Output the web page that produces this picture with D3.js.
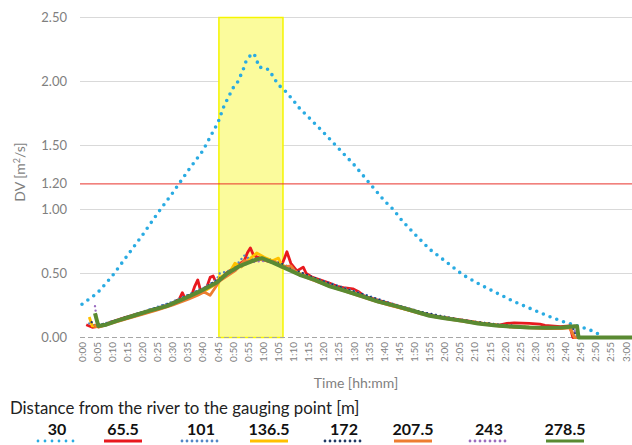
<!DOCTYPE html>
<html lang="en">
<head>
<meta charset="utf-8">
<title>DV over time</title>
<script src="https://cdnjs.cloudflare.com/ajax/libs/d3/7.8.5/d3.min.js"></script>
<style>
  body { margin: 0; background: #fff; font-family: 'Lato', 'Noto Sans', sans-serif; }
  svg { display: block; }
</style>
</head>
<body>
<div id="chart"></div>
<script>

/* Data */
/* ==== */

// y ticks (1.20 is the threshold line)
var yTicks = [0, 0.5, 1.0, 1.2, 1.5, 2.0, 2.5];
var gridValues = [0.5, 1.0, 1.5, 2.0, 2.5];
var threshold = 1.2;

// x ticks, minutes, every 5 min
var xTicks = d3.range(0, 181, 5);

// highlighted window, minutes
var bandStart = 45.3,
    bandEnd = 66.5;

// series names (distance to the gauging point, m)
var distances = ['30', '65.5', '101', '136.5', '172', '207.5', '243', '278.5'];

// [minute, DV]
var s30 = [[0,0.26],[5,0.345],[10,0.48],[15,0.64],[20,0.80],[25,0.97],[30,1.13],[35,1.30],[40,1.46],[45,1.68],
  [47,1.81],[48.5,1.88],[50,1.95],[51.6,2.00],[53.3,2.09],[54.3,2.16],[55.6,2.20],[56.9,2.22],[57.9,2.16],
  [58.6,2.11],[60.2,2.11],[61.9,2.09],[63.2,2.04],[64.5,1.99],[66,1.95],[67.5,1.92],[70,1.85],[72,1.79],[75,1.72],
  [80,1.60],[84,1.50],[90,1.35],[95,1.21],[100,1.07],[103,1.00],[106,0.91],[110,0.81],[115,0.69],[120,0.60],
  [126,0.49],[132,0.41],[137,0.35],[143,0.28],[148,0.23],[154,0.17],[159,0.125],[164,0.09],[168,0.06],[171.5,0.02]];

var s65 = [[1.4,0.10],[3.4,0.08],[6.5,0.09],[9.6,0.12],[14.7,0.16],[19.9,0.195],[25,0.23],[28,0.25],[30,0.27],
  [32.2,0.30],[33.2,0.35],[34.2,0.30],[36.3,0.33],[37.3,0.40],[38.3,0.45],[39.3,0.36],[41.4,0.40],[42.4,0.47],
  [43.4,0.48],[44.5,0.42],[47.6,0.50],[50.6,0.55],[53.7,0.60],[54.7,0.66],[55.7,0.70],[56.8,0.64],[58.8,0.62],
  [60.9,0.60],[64,0.58],[66,0.56],[67,0.62],[67.8,0.67],[69.1,0.58],[71.1,0.52],[73.2,0.55],[74.2,0.50],[76.3,0.47],
  [81.4,0.43],[84.5,0.40],[86.5,0.39],[89.6,0.38],[91.7,0.355],[93.7,0.32],[96.8,0.30],[101.9,0.265],[107,0.23],
  [112,0.195],[117,0.165],[122,0.15],[127.6,0.13],[132.7,0.11],[138,0.097],[140.6,0.11],[143,0.115],[148,0.11],
  [151.5,0.105],[153.2,0.095],[158.3,0.085],[161.4,0.09],[162.4,0],[190,0]];

var s101 = [[2.4,0.11],[4.5,0.09],[9.6,0.125],[14.7,0.16],[19.9,0.20],[25,0.24],[30.1,0.28],[35.2,0.335],[40.4,0.39],
  [44.5,0.45],[45.5,0.50],[48.6,0.52],[50.6,0.55],[53.7,0.64],[55.8,0.61],[60.9,0.62],[64,0.60],[66,0.58],[71.1,0.52],
  [76.3,0.47],[81.4,0.43],[86.5,0.39],[91.7,0.35],[96.8,0.31],[101.9,0.27],[107.1,0.235],[112.2,0.20],[117.3,0.175],
  [122.4,0.15],[127.6,0.13],[132.7,0.115],[137.8,0.10],[143,0.09],[148.1,0.08],[153.2,0.078],[158.3,0.078],
  [162.4,0.08],[163.5,0],[190,0]];

var s136 = [[2.4,0.16],[3.4,0.09],[5.5,0.085],[9.6,0.115],[14.7,0.15],[19.9,0.185],[25,0.22],[30.1,0.26],[35.2,0.31],
  [40.4,0.36],[44.5,0.42],[45.5,0.47],[48.6,0.50],[50.6,0.58],[52.7,0.55],[55.8,0.62],[57.8,0.66],[60.9,0.62],
  [63,0.60],[65,0.62],[66,0.57],[71.1,0.51],[76.3,0.46],[81.4,0.41],[86.5,0.37],[91.7,0.33],[96.8,0.29],
  [101.9,0.255],[107.1,0.22],[112.2,0.19],[117.3,0.165],[122.4,0.145],[127.6,0.125],[132.7,0.11],[137.8,0.095],
  [143,0.085],[148.1,0.08],[153.2,0.075],[158.3,0.075],[161.4,0.08],[163,0],[190,0]];

var s172 = [[3.2,0.12],[4.5,0.09],[9.6,0.12],[14.7,0.16],[19.9,0.195],[25,0.235],[30.1,0.275],[35.2,0.33],
  [40.4,0.385],[45.5,0.46],[50.6,0.54],[55.8,0.60],[60.9,0.61],[66,0.575],[71.1,0.52],[76.3,0.47],[81.4,0.425],
  [86.5,0.385],[91.7,0.345],[96.8,0.305],[101.9,0.265],[107.1,0.23],[112.2,0.20],[117.3,0.175],[122.4,0.15],
  [127.6,0.13],[132.7,0.115],[137.8,0.10],[143,0.09],[148.1,0.08],[153.2,0.078],[158.3,0.078],[162.4,0.08],
  [163.5,0],[190,0]];

var s207 = [[4,0.10],[5.5,0.08],[9.6,0.11],[14.7,0.145],[19.9,0.18],[25,0.215],[30.1,0.255],[35.2,0.30],[38.3,0.33],
  [40.4,0.355],[42.4,0.33],[45.5,0.44],[50.6,0.52],[53.7,0.60],[55.8,0.59],[58.8,0.61],[60.9,0.60],[64,0.59],
  [66,0.55],[69.1,0.56],[71.1,0.50],[76.3,0.45],[81.4,0.405],[86.5,0.365],[91.7,0.325],[96.8,0.285],[101.9,0.25],
  [107.1,0.22],[112.2,0.185],[117.3,0.16],[122.4,0.14],[127.6,0.12],[132.7,0.105],[137.8,0.09],[143,0.08],
  [148.1,0.075],[153.2,0.07],[158.3,0.07],[161.4,0.075],[163,0],[190,0]];

var s243 = [[4.3,0.245],[5,0.12],[6,0.09],[9.6,0.115],[14.7,0.155],[19.9,0.19],[25,0.23],[30.1,0.27],[35.2,0.32],
  [40.4,0.38],[45.5,0.45],[50.6,0.53],[55.8,0.59],[60.9,0.60],[66,0.565],[71.1,0.51],[76.3,0.46],[81.4,0.415],
  [86.5,0.375],[91.7,0.335],[96.8,0.295],[101.9,0.26],[107.1,0.225],[112.2,0.195],[117.3,0.17],[122.4,0.148],
  [127.6,0.128],[132.7,0.11],[137.8,0.095],[143,0.085],[148.1,0.078],[153.2,0.075],[158.3,0.075],[162.4,0.08],
  [164,0],[190,0]];

var s278 = [[4.3,0.19],[5.4,0.09],[8,0.10],[11.5,0.13],[17,0.17],[22.5,0.21],[28,0.245],[33.4,0.30],[39,0.36],
  [44.6,0.43],[48,0.50],[52.3,0.56],[57.8,0.61],[59.5,0.62],[63.2,0.585],[66.5,0.55],[72,0.49],[77,0.45],[82,0.40],
  [87,0.365],[93,0.32],[98,0.28],[104,0.245],[110,0.205],[115,0.17],[120,0.15],[126,0.13],[131,0.11],[137,0.094],
  [142,0.085],[148,0.078],[154,0.076],[159,0.078],[163,0.088],[163.8,0.088],[164.3,0],[190,0]];

var seriesValues = [s30, s65, s101, s136, s172, s207, s243, s278];


/* Styles */
/* ====== */

var styles = [
  { color: '#29abe2', width: 3.6, dash: '0,7.2' },
  { color: '#e8191e', width: 2.8, dash: null },
  { color: '#4f86c6', width: 2.4, dash: '0,4.5' },
  { color: '#ffc000', width: 2.8, dash: null },
  { color: '#1f3864', width: 2.4, dash: '0,4.5' },
  { color: '#ed7d31', width: 2.8, dash: null },
  { color: '#9b6cc0', width: 2.4, dash: '0,4.5' },
  { color: '#5a8a32', width: 4, dash: null }
];

var legendCenters = [57, 123, 201, 269, 344, 413, 489, 565];


/* Setup */
/* ===== */

var width = 632,
    height = 445;

var svg = d3.select('#chart').append('svg')
    .attr('width', width)
    .attr('height', height);

var x = d3.scaleLinear().domain([0, 180]).range([82, 626]);
var y = d3.scaleLinear().domain([0, 2.5]).range([337.5, 17.5]);

var plotLeft = 80, plotRight = width;

function fmtTime(m) {
  return Math.floor(m / 60) + ':' + d3.format('02d')(m % 60);
}

// Gridlines
svg.append('g').selectAll('line')
  .data(gridValues).join('line')
    .attr('x1', plotLeft).attr('x2', plotRight)
    .attr('y1', function(d) { return y(d); })
    .attr('y2', function(d) { return y(d); })
    .attr('stroke', '#d9d9d9')
    .attr('stroke-width', 1);

// Highlight window
svg.append('rect')
    .attr('x', x(bandStart))
    .attr('y', y(2.5))
    .attr('width', x(bandEnd) - x(bandStart))
    .attr('height', y(0) - y(2.5))
    .attr('fill', '#fbfb9c')
    .attr('stroke', '#f5f500')
    .attr('stroke-width', 1.5);

// Threshold
svg.append('line')
    .attr('x1', plotLeft).attr('x2', plotRight)
    .attr('y1', y(threshold)).attr('y2', y(threshold))
    .attr('stroke', '#e8312a')
    .attr('stroke-width', 1);

// x axis line (dashed)
svg.append('line')
    .attr('x1', plotLeft).attr('x2', plotRight)
    .attr('y1', y(0)).attr('y2', y(0))
    .attr('stroke', '#a6a6a6')
    .attr('stroke-width', 1)
    .attr('stroke-dasharray', '5,3');

// y labels
svg.append('g').selectAll('text')
  .data(yTicks).join('text')
    .attr('x', 67)
    .attr('y', function(d) { return y(d); })
    .attr('dy', '0.35em')
    .attr('text-anchor', 'end')
    .attr('font-size', 13)
    .attr('fill', '#7f7f7f')
    .text(function(d) { return d3.format('.2f')(d); });

// x labels
svg.append('g').selectAll('text')
  .data(xTicks).join('text')
    .attr('transform', function(d) { return 'translate(' + (x(d) + 3.5) + ',' + 342 + ') rotate(-90)'; })
    .attr('text-anchor', 'end')
    .attr('font-size', 10)
    .attr('fill', '#7f7f7f')
    .text(fmtTime);

// Axis titles
svg.append('text')
    .attr('transform', 'translate(25,172) rotate(-90)')
    .attr('text-anchor', 'middle')
    .attr('font-size', 14)
    .attr('fill', '#7f7f7f')
    .text('DV [m')
  .append('tspan').attr('font-size', 9).attr('dy', -5).text('2')
  .select(function() { return this.parentNode; })
  .append('tspan').attr('dy', 5).text('/s]');

svg.append('text')
    .attr('x', 356)
    .attr('y', 388)
    .attr('text-anchor', 'middle')
    .attr('font-size', 14)
    .attr('fill', '#7f7f7f')
    .text('Time [hh:mm]');


/* Series */
/* ====== */

var line = d3.line()
    .x(function(d) { return x(d[0]); })
    .y(function(d) { return y(d[1]); });

svg.append('g').selectAll('path')
  .data(seriesValues).join('path')
    .attr('d', line)
    .attr('fill', 'none')
    .attr('stroke', function(d, i) { return styles[i].color; })
    .attr('stroke-width', function(d, i) { return styles[i].width; })
    .attr('stroke-linecap', function(d, i) { return styles[i].dash ? 'round' : 'butt'; })
    .attr('stroke-linejoin', 'round')
    .attr('stroke-dasharray', function(d, i) { return styles[i].dash; });


/* Legend */
/* ====== */

svg.append('text')
    .attr('x', 10)
    .attr('y', 414)
    .attr('font-size', 16.8)
    .attr('fill', '#222')
    .text('Distance from the river to the gauging point [m]');

var legend = svg.append('g').selectAll('g')
  .data(distances).join('g')
    .attr('transform', function(d, i) { return 'translate(' + legendCenters[i] + ',0)'; });

legend.append('text')
    .attr('y', 435)
    .attr('text-anchor', 'middle')
    .attr('font-size', 16)
    .attr('font-weight', 'bold')
    .attr('fill', '#111')
    .text(function(d) { return d; });

legend.append('line')
    .attr('x1', -19).attr('x2', 19)
    .attr('y1', 441).attr('y2', 441)
    .attr('stroke', function(d, i) { return styles[i].color; })
    .attr('stroke-width', function(d, i) { return styles[i].dash ? 2.8 : 3; })
    .attr('stroke-linecap', function(d, i) { return styles[i].dash ? 'round' : 'butt'; })
    .attr('stroke-dasharray', function(d, i) { return i === 0 ? '0,7' : (styles[i].dash ? '0,5' : null); });

</script>
</body>
</html>
